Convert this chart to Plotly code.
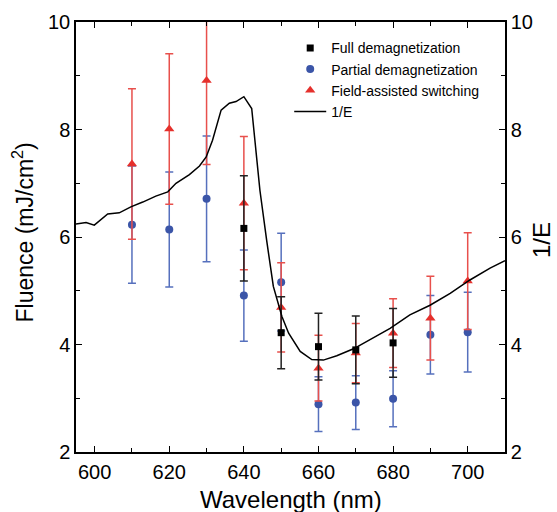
import plotly.graph_objects as go

# Full demagnetization
full_x = [640, 650, 660, 670, 680]
full_y = [6.16, 4.22, 3.96, 3.90, 4.03]
full_err = [0.98, 0.67, 0.62, 0.63, 0.64]

# Partial demagnetization
part_x = [610, 620, 630, 640, 650, 660, 670, 680, 690, 700]
part_y = [6.23, 6.14, 6.71, 4.91, 5.16, 2.89, 2.92, 2.99, 4.18, 4.23]
part_err = [1.09, 1.07, 1.17, 0.85, 0.91, 0.51, 0.50, 0.52, 0.73, 0.74]

# Field-assisted switching
field_x = [610, 620, 630, 640, 650, 660, 670, 680, 690, 700]
field_y = [7.36, 8.01, 8.91, 6.63, 4.69, 3.56, 3.84, 4.21, 4.49, 5.18]
field_err = [1.40, 1.40, 1.56, 1.24, 0.83, 0.61, 0.55, 0.64, 0.78, 0.90]

# 1/E curve
inv_x = [595, 597.7, 599.9, 603.5, 606.6, 609.7, 612.9, 616.4, 619.6, 621.8,
         625.4, 628.1, 629.9, 631.6, 633.9, 636.1, 637.9, 640.0, 642.1, 643.0,
         644.3, 646.1, 647.9, 650.2, 652.0, 655.1, 658.2, 661.3, 664.9, 669.4,
         674.7, 679.2, 684.5, 689.9, 695.3, 700.6, 706.0, 708.5, 710]
inv_y = [6.24, 6.27, 6.22, 6.43, 6.45, 6.56, 6.65, 6.76, 6.84, 7.00,
         7.16, 7.32, 7.49, 7.80, 8.36, 8.49, 8.52, 8.61, 8.39, 7.80,
         6.87, 5.94, 5.08, 4.52, 4.21, 3.87, 3.72, 3.71, 3.79, 3.92,
         4.12, 4.30, 4.55, 4.73, 4.95, 5.20, 5.42, 5.50, 5.56]

x_title = "Wavelength (nm)"
y_title = "Fluence (mJ/cm<sup>2</sup>)"
y2_title = "1/E"

RED = "#e5302c"
BLUE = "#3b55a8"
BLACK = "#000000"
FONT = "Liberation Sans, Arial, sans-serif"

fig = go.Figure()

fig.add_trace(go.Scatter(
    x=part_x, y=part_y, mode="markers", name="Partial demagnetization",
    marker=dict(symbol="circle", size=8, color=BLUE),
    error_y=dict(type="data", array=part_err, color="#5670bd", thickness=1.5, width=4),
    legendrank=2,
))
fig.add_trace(go.Scatter(
    x=field_x, y=field_y, mode="markers", name="Field-assisted switching",
    marker=dict(symbol="triangle-up", size=9, color=RED),
    error_y=dict(type="data", array=field_err, color="#e8504c", thickness=1.5, width=4),
    legendrank=3,
))
fig.add_trace(go.Scatter(
    x=full_x, y=full_y, mode="markers", name="Full demagnetization",
    marker=dict(symbol="square", size=7, color=BLACK),
    error_y=dict(type="data", array=full_err, color="#222222", thickness=1.5, width=4),
    legendrank=1,
))
fig.add_trace(go.Scatter(
    x=inv_x, y=inv_y, mode="lines", name="1/E", yaxis="y2",
    line=dict(color=BLACK, width=1.5), legendrank=4,
))

axis_common = dict(
    showline=True, linecolor="black", linewidth=1.5,
    ticks="inside", ticklen=6, tickwidth=1.2, tickcolor="black",
    showgrid=False, zeroline=False, automargin=False,
    tickfont=dict(family=FONT, size=20, color="black"),
)

fig.update_layout(
    width=557, height=512,
    margin=dict(l=76, r=52, t=22, b=60, autoexpand=False),
    paper_bgcolor="white", plot_bgcolor="white",
    font=dict(family=FONT, color="black"),
    showlegend=True,
    legend=dict(
        x=0.497, y=0.976, xanchor="left", yanchor="top",
        bgcolor="rgba(0,0,0,0)", borderwidth=0,
        font=dict(family=FONT, size=14, color="black"),
        tracegroupgap=0, itemwidth=32,
    ),
    xaxis=dict(
        range=[595, 710], dtick=20, tick0=600, mirror="ticks",
        ticklabelstandoff=1,
        minor=dict(ticks="inside", dtick=10, tick0=600, ticklen=4, tickcolor="black"),
        **axis_common,
    ),
    yaxis=dict(
        range=[2, 10], dtick=2, mirror=True,
        minor=dict(ticks="inside", dtick=1, ticklen=4, tickcolor="black"),
        **axis_common,
    ),
    yaxis2=dict(
        range=[2, 10], dtick=2, overlaying="y", side="right",
        minor=dict(ticks="inside", dtick=1, ticklen=4, tickcolor="black"),
        **axis_common,
    ),
    annotations=[
        dict(text=x_title, xref="paper", yref="paper", x=0.5, y=-0.111,
             xanchor="center", yanchor="middle", showarrow=False,
             font=dict(family=FONT, size=24, color="black")),
        dict(text=y_title, xref="paper", yref="paper", x=-0.124, y=0.51,
             xanchor="center", yanchor="middle", showarrow=False, textangle=-90,
             font=dict(family=FONT, size=23, color="black")),
        dict(text=y2_title, xref="paper", yref="paper", x=1.084, y=0.493,
             xanchor="center", yanchor="middle", showarrow=False, textangle=-90,
             font=dict(family=FONT, size=24, color="black")),
    ],
)

fig.write_html("out.html")
